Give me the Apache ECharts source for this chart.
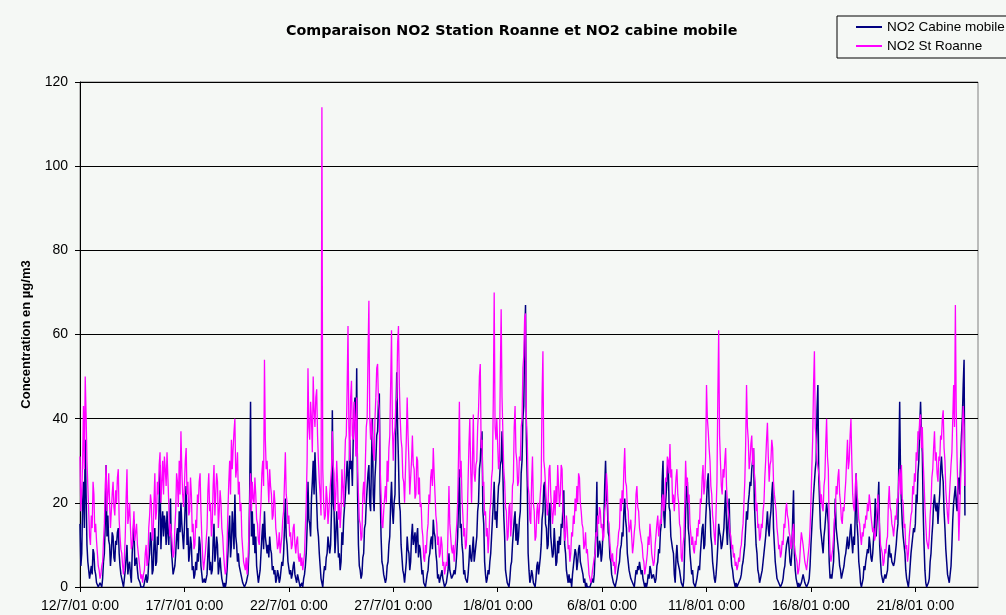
<!DOCTYPE html>
<html>
<head>
<meta charset="utf-8">
<title>Comparaison NO2</title>
<script src="https://cdn.jsdelivr.net/npm/echarts@6/dist/echarts.min.js"></script>
<style>
  html, body { margin: 0; padding: 0; background: #f5f8f5; }
  #chart { width: 1006px; height: 615px; }
</style>
</head>
<body>
<div id="chart"></div>
<script>
// relevés horaires à partir du 12/7/01 0:00, axe jusqu'au 24/8/01 0:00
const startDate = new Date(2001, 6, 12, 0, 0);
const nbCategories = 1033;

const categories = [];
for (let i = 0; i < nbCategories; i++) {
  const d = new Date(startDate.getTime() + i * 3600 * 1000);
  categories.push(d.getDate() + '/' + (d.getMonth() + 1) + '/01 ' + d.getHours() + ':00');
}

// NO2 cabine mobile (µg/m3), une ligne par jour
const no2Cabine = [
  15,5,8,20,25,14,35,22,10,6,4,2, 2,5,3,9,8,4,3,1,1,0,0,1,
  1,0,2,6,8,15,29,12,17,11,10,5, 8,13,12,7,6,11,10,13,14,8,5,3,
  2,1,0,2,4,7,10,3,5,6,3,1, 8,12,16,5,6,7,4,2,2,1,0,0,
  0,0,1,2,3,1,2,6,8,13,11,3, 4,10,14,5,6,12,10,20,29,9,15,18,
  12,17,15,10,18,13,10,16,21,9,6,3, 3,5,8,12,14,9,18,13,20,15,12,9,
  14,20,24,10,14,6,8,12,10,4,5,2, 3,6,4,8,6,12,10,5,3,1,1,2,
  1,2,3,8,12,4,6,3,4,11,15,6, 8,12,10,3,5,7,4,2,2,0,1,0,
  1,4,8,13,17,7,10,18,14,9,22,12, 10,6,8,5,4,3,2,1,1,0,0,1,
  1,3,8,22,44,12,18,10,15,8,12,5, 3,1,1,4,8,12,15,9,18,12,10,8,
  10,7,12,9,8,4,5,3,4,1,2,4, 3,1,2,4,6,5,8,14,21,12,10,6,
  6,3,4,2,3,5,6,3,2,1,3,2, 1,0,0,1,0,2,3,5,8,14,25,16,
  15,12,21,25,30,22,32,26,20,14,12,8, 5,2,1,0,3,5,4,7,8,12,10,8,
  10,18,42,20,18,8,12,18,14,7,8,4, 6,13,10,16,16,22,22,30,30,22,35,28,
  30,24,35,42,45,33,52,22,10,5,4,2, 3,7,8,14,15,20,20,27,29,20,18,30,
  40,22,18,26,30,36,37,44,46,22,12,6, 5,3,3,1,2,5,6,10,12,20,25,18,
  15,20,22,38,51,38,30,20,18,10,10,4, 3,1,1,6,12,9,8,4,6,12,15,10,
  10,13,8,12,14,7,10,9,6,3,4,1, 1,0,0,3,4,7,8,11,12,9,16,13,
  12,8,6,2,3,1,1,3,4,2,2,0, 0,1,1,4,8,4,3,2,2,3,4,3,
  5,8,12,20,28,14,15,10,8,3,4,2, 2,1,3,6,10,7,6,9,12,6,8,10,
  12,18,20,28,30,35,37,18,15,6,3,1, 2,4,3,6,8,12,12,20,25,16,18,14,
  20,24,25,29,30,37,37,17,12,4,4,1, 1,0,2,5,6,10,10,16,18,11,15,10,
  12,16,18,27,30,40,43,58,67,35,25,8, 4,1,2,4,3,1,1,0,2,5,6,3,
  3,7,10,16,18,24,25,15,14,9,10,18, 20,12,12,7,8,14,10,5,6,11,8,12,
  10,15,14,19,23,10,8,4,4,1,3,1, 2,0,3,5,5,9,8,4,6,9,10,6,
  5,4,3,1,2,0,1,0,0,0,0,0, 0,2,1,3,3,14,25,7,8,11,10,6,
  8,13,15,24,30,21,20,13,12,7,6,3, 3,1,1,0,0,2,2,5,6,9,10,13,
  12,18,21,16,14,8,8,4,4,2,2,1, 1,0,2,4,3,5,4,6,6,3,4,2,
  2,0,1,0,1,3,2,5,4,2,2,3, 3,1,2,5,6,9,8,13,15,25,30,17,
  14,20,20,27,30,19,18,12,12,9,8,3, 1,7,10,6,6,4,4,1,1,0,2,10,
  18,24,25,14,12,8,8,3,4,1,1,0, 0,2,2,5,4,8,8,14,15,9,10,16,
  20,25,27,20,18,12,10,6,4,2,1,3, 6,10,15,13,12,9,10,12,14,19,23,14,
  10,16,21,12,8,5,4,2,2,0,1,0, 0,1,1,2,3,5,6,8,10,14,18,16,
  20,22,25,24,28,30,33,20,15,10,8,4, 3,1,2,3,4,6,8,10,12,15,18,14,
  12,16,18,22,25,14,10,6,4,2,2,1, 1,0,0,1,2,4,5,8,10,11,12,9,
  6,5,8,16,23,8,4,2,2,0,1,0, 0,1,1,3,2,1,1,0,0,1,2,5,
  10,14,18,22,25,28,30,42,48,26,20,14, 12,10,8,12,14,17,20,18,15,6,2,3,
  2,4,6,14,21,14,12,10,8,5,4,2, 3,4,5,7,8,10,12,9,10,13,15,11,
  8,12,10,18,27,15,12,6,4,1,0,1, 2,5,4,6,6,9,8,12,10,7,6,8,
  8,15,21,12,16,20,25,10,6,3,2,1, 1,3,2,3,4,8,10,7,8,6,6,5,
  6,8,10,13,15,30,44,26,20,15,12,10, 8,4,2,1,0,2,5,8,10,12,14,13,
  15,22,20,27,30,38,44,36,32,18,10,4, 1,0,0,1,2,6,8,12,15,20,22,19,
  18,20,15,19,22,28,31,27,25,18,14,9, 6,3,2,1,1,5,10,16,20,22,24,20,
  18,24,26,22,30,36,40,48,54,17
];

// NO2 station Roanne (µg/m3)
const no2Roanne = [
  31,18,22,30,43,28,50,41,30,24,18,12, 10,17,14,25,22,13,15,11,8,5,4,2,
  3,5,6,11,15,24,29,18,22,27,20,14, 18,22,25,19,17,23,20,26,28,16,12,9,
  8,5,3,7,12,21,28,15,17,20,14,9, 10,14,18,11,13,15,10,8,6,4,2,3,
  1,3,4,8,10,5,6,14,17,22,20,11, 12,20,27,16,18,25,22,29,32,20,25,30,
  22,31,28,24,32,26,20,12,15,13,10,7, 8,14,18,27,25,19,30,22,37,28,22,19,
  24,30,33,22,25,17,18,26,22,13,15,9, 10,16,14,22,20,25,27,18,12,7,4,6,
  8,11,14,23,27,18,20,12,15,24,29,17, 22,27,25,14,18,23,20,14,12,8,5,3,
  4,10,18,25,30,22,35,28,33,37,40,26, 28,32,22,25,18,20,12,9,6,5,4,7,
  3,6,12,20,27,18,25,21,20,26,22,16, 15,11,10,16,20,27,30,24,54,35,28,30,
  25,20,28,24,22,16,17,23,20,14,12,9, 10,13,8,10,12,16,18,25,32,22,20,15,
  17,12,13,9,10,14,15,10,8,11,12,7, 6,8,5,7,4,6,8,14,20,30,52,38,
  35,44,40,32,50,42,38,45,47,36,30,25, 22,17,114,28,20,16,17,24,21,15,18,22,
  22,28,37,29,27,18,22,30,25,16,20,14, 18,28,24,19,28,35,36,47,62,38,30,45,
  49,36,35,44,40,31,45,28,22,16,15,11, 12,22,25,20,30,38,40,55,68,40,35,40,
  40,32,30,40,45,52,53,44,42,28,22,15, 14,18,18,24,20,30,25,33,36,48,61,38,
  30,36,38,44,45,58,62,48,40,35,33,26, 25,20,20,35,45,36,30,22,22,30,36,29,
  28,21,22,31,30,22,26,19,20,14,12,7, 6,10,8,13,15,22,20,26,28,24,33,27,
  22,17,15,10,12,7,8,12,10,5,6,3, 3,6,5,14,24,15,12,9,8,10,6,9,
  12,15,20,31,44,26,30,21,17,12,14,9, 10,16,25,34,40,28,20,30,41,27,25,29,
  30,38,42,50,53,33,35,24,25,17,18,12, 14,8,12,18,20,26,28,45,70,38,35,40,
  40,28,30,50,66,45,45,28,25,19,18,11, 12,19,20,12,15,24,25,38,43,32,30,24,
  25,31,30,38,40,52,55,64,65,40,35,24, 22,16,15,25,31,20,18,11,12,18,20,15,
  15,22,25,45,56,30,28,24,24,17,20,28, 29,22,22,15,18,23,17,24,20,29,24,19,
  22,29,28,18,16,11,12,17,14,9,10,6, 8,13,12,17,15,21,18,24,20,27,26,20,
  18,15,14,9,10,13,8,9,6,3,3,1, 2,4,4,7,8,13,12,17,15,19,18,14,
  15,11,12,18,20,27,24,16,15,10,10,6, 8,5,6,3,5,9,10,13,14,21,18,23,
  20,28,33,25,24,19,18,13,14,16,12,8, 10,13,15,22,24,19,18,14,14,11,10,7,
  6,3,3,6,8,12,10,15,12,8,8,5, 6,10,10,15,17,12,12,16,15,21,22,18,
  20,26,25,31,30,27,34,26,28,20,22,18, 18,26,28,22,20,15,14,7,6,10,12,20,
  30,24,26,20,22,15,15,10,12,9,8,11, 10,14,12,16,15,21,20,26,29,22,24,31,
  48,40,37,33,30,24,22,17,15,12,10,18, 25,45,61,36,30,24,22,28,26,30,33,24,
  20,18,16,13,12,9,10,7,8,5,6,4, 5,7,6,9,10,13,15,20,25,34,48,38,
  35,28,30,34,36,29,33,27,25,18,20,14, 15,11,12,15,14,18,20,26,30,35,39,31,
  25,29,30,35,33,25,22,20,18,14,12,9, 10,7,8,11,10,15,14,18,20,17,16,13,
  12,9,10,13,15,10,8,7,6,3,4,6, 10,13,13,10,8,6,5,4,6,8,10,14,
  20,28,35,48,56,38,35,30,30,27,25,20, 22,19,18,24,26,34,40,31,28,14,8,6,
  6,9,12,16,18,24,22,26,28,22,20,16, 15,19,18,22,25,30,35,28,30,36,40,30,
  22,19,18,24,27,22,20,16,15,12,10,13, 12,15,14,17,16,20,18,22,20,17,15,13,
  14,11,12,16,18,22,22,14,10,9,8,5, 6,9,8,11,12,20,24,19,18,15,14,12,
  12,17,16,21,20,26,28,22,29,21,20,14, 15,9,10,6,8,12,12,17,18,24,22,27,
  25,32,30,37,35,40,41,33,38,30,25,19, 15,11,10,9,12,17,20,26,28,33,37,30,
  32,27,25,31,30,36,35,40,42,33,30,23, 20,17,15,21,25,29,32,40,48,38,67,42,
  30,22,11,18,25,30,38,43,38,24
];

const yTicks = { min: 0, max: 120, interval: 20 };
const labelEvery = 120; // une étiquette tous les 5 jours

const bg = '#f5f8f5';
const myChart = echarts.init(document.getElementById('chart'), null, { renderer: 'canvas' });

const option = {
  backgroundColor: bg,
  animation: false,
  title: {
    text: 'Comparaison NO2 Station Roanne et NO2 cabine mobile',
    left: 286,
    top: 24,
    padding: 0,
    textStyle: {
      fontFamily: 'DejaVu Sans',
      fontWeight: 'bold',
      fontSize: 14.3,
      color: '#000'
    }
  },
  legend: {
    orient: 'vertical',
    left: 837,
    top: 16,
    padding: [4, 10, 5, 19],
    icon: 'rect',
    itemWidth: 26,
    itemHeight: 2,
    itemGap: 5,
    borderColor: '#000',
    borderWidth: 1,
    borderRadius: 0,
    backgroundColor: bg,
    textStyle: {
      fontFamily: 'Liberation Sans',
      fontSize: 13.5,
      color: '#000'
    },
    data: ['NO2 Cabine mobile', 'NO2 St Roanne']
  },
  grid: {
    left: 80,
    right: 28,
    top: 82,
    bottom: 28,
    show: true,
    backgroundColor: bg,
    borderColor: '#808080',
    borderWidth: 1
  },
  xAxis: {
    type: 'category',
    boundaryGap: false,
    data: categories,
    axisLine: { lineStyle: { color: '#000', width: 1 } },
    axisTick: {
      show: true,
      interval: labelEvery - 1,
      length: 5,
      lineStyle: { color: '#000' }
    },
    axisLabel: {
      interval: labelEvery - 1,
      color: '#000',
      fontFamily: 'Liberation Sans',
      fontSize: 14,
      margin: 12
    },
    splitLine: { show: false }
  },
  yAxis: {
    type: 'value',
    min: yTicks.min,
    max: yTicks.max,
    interval: yTicks.interval,
    name: 'Concentration en µg/m3',
    nameLocation: 'middle',
    nameRotate: 90,
    nameGap: 47,
    nameTextStyle: {
      fontFamily: 'Liberation Sans',
      fontWeight: 'bold',
      fontSize: 13,
      color: '#000'
    },
    axisLine: { show: true, lineStyle: { color: '#000', width: 1 } },
    axisTick: { show: true, length: 5, lineStyle: { color: '#000' } },
    axisLabel: {
      color: '#000',
      fontFamily: 'Liberation Sans',
      fontSize: 14,
      margin: 12
    },
    splitLine: { show: true, lineStyle: { color: '#000', width: 1 } }
  },
  series: [
    {
      name: 'NO2 Cabine mobile',
      type: 'line',
      data: no2Cabine,
      symbol: 'none',
      showSymbol: false,
      color: '#000080',
      lineStyle: { color: '#000080', width: 1.5 }
    },
    {
      name: 'NO2 St Roanne',
      type: 'line',
      data: no2Roanne,
      symbol: 'none',
      showSymbol: false,
      color: '#ff00ff',
      lineStyle: { color: '#ff00ff', width: 1.3 }
    }
  ]
};

myChart.setOption(option);
</script>
</body>
</html>
